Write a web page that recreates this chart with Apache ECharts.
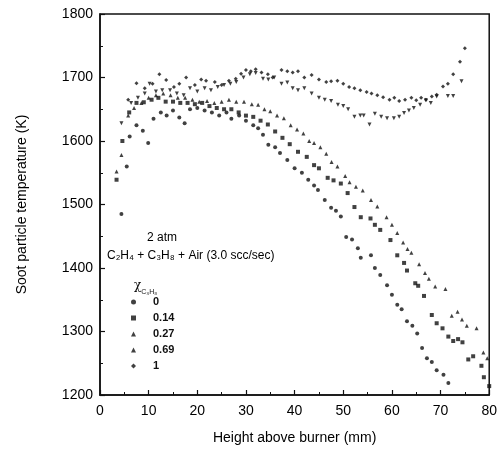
<!DOCTYPE html>
<html><head><meta charset="utf-8">
<script src="https://cdn.jsdelivr.net/npm/echarts@6/dist/echarts.min.js"></script>
<style>html,body{margin:0;padding:0;background:#fff}#c{width:500px;height:458px}</style>
</head><body><div id="c"></div>
<script>
// Legend names (χ of C3H8)
const seriesNames = ['0', '0.14', '0.27', '0.69', '1'];
const xTicks = [0, 10, 20, 30, 40, 50, 60, 70, 80];
const yTicks = [1200, 1300, 1400, 1500, 1600, 1700, 1800];

// χ = 0 : steepest decline  [height mm, temperature K]
const s0 = [[4.4,1485],[5.5,1560],[6.1,1607],[7.5,1625],[8.8,1616],[9.9,1597],[11,1635],[12.5,1645],[13.7,1640],[15,1648],[16.3,1637],[17.4,1628],[18.5,1650],[20,1652],[21.5,1648],[23,1645],[24.5,1640],[26,1645],[27,1635],[28.6,1640],[30,1632],[31.5,1625],[32.5,1620],[33.5,1610],[34.6,1594],[36,1590],[37,1581],[38.5,1570],[40,1557],[41.5,1550],[42.8,1539],[44,1530],[44.8,1523],[46.2,1507],[47.5,1495],[48.5,1490],[49.5,1481],[50.6,1449],[51.8,1445],[53,1431],[53.6,1416],[55.7,1420],[56.5,1400],[57.6,1389],[59,1373],[60,1358],[61.1,1342],[62,1335],[63.1,1316],[64.2,1309],[65.2,1297],[66.2,1274],[67.2,1258],[68.2,1252],[69.2,1239],[70.6,1232],[71.6,1219]];
// χ = 0.14
const s1 = [[3.4,1539],[4.6,1600],[6,1645],[7.5,1660],[9,1661],[10.6,1665],[12,1668],[13.5,1662],[15,1662],[16.5,1660],[18,1660],[19.5,1658],[21,1660],[22.5,1655],[24,1652],[25.5,1650],[27,1650],[28.5,1645],[30,1640],[31.5,1638],[33,1632],[34.5,1626],[36,1615],[37.5,1605],[39,1595],[40.7,1583],[42.5,1575],[44,1562],[45,1557],[46.8,1542],[48,1538],[49.5,1533],[50.9,1518],[52.3,1496],[53.6,1480],[55.6,1478],[56.5,1468],[57.6,1460],[59.7,1444],[61.1,1420],[62.5,1408],[63.1,1396],[64.8,1376],[65.4,1372],[66.6,1356],[68.2,1326],[69.2,1313],[70.4,1305],[71.6,1292],[72.6,1285],[73.6,1288],[74.5,1283],[75.7,1256],[76.7,1261],[78.4,1246],[78.9,1228],[80,1214]];
// χ = 0.27 : least steep decline
const s2 = [[3.4,1552],[4.4,1578],[5.8,1640],[7,1652],[8.5,1660],[10,1668],[11.5,1672],[13,1675],[14.5,1672],[16,1668],[17.5,1668],[19,1665],[20.4,1662],[22,1663],[23.5,1660],[25,1662],[26.5,1665],[28,1662],[29.6,1662],[31.2,1658],[32.5,1657],[33.8,1650],[35,1647],[36.4,1640],[37.8,1636],[39.2,1625],[40.5,1618],[41.8,1612],[43,1600],[44,1597],[45.3,1590],[46.5,1580],[47.6,1567],[48.8,1560],[50.4,1545],[51.3,1535],[52.6,1528],[54,1522],[55.7,1507],[57,1497],[58.9,1480],[60,1468],[61.1,1455],[62.3,1440],[63.2,1430],[64,1424],[65.6,1406],[66.8,1392],[67.6,1383],[68.9,1371],[71,1367],[72.3,1325],[73.5,1331],[74.4,1319],[75.4,1309],[77.4,1305],[78.8,1267],[79.6,1258]];
// χ = 0.69 : lower flat curve
const s3 = [[4.4,1628],[6.4,1660],[7.8,1668],[9.2,1675],[10.2,1690],[11.5,1678],[12.8,1680],[14.4,1680],[15.8,1675],[17.2,1672],[18.5,1683],[20,1678],[21.5,1683],[22.8,1680],[24.2,1685],[25.5,1688],[26.8,1690],[28,1693],[29.5,1700],[30.8,1705],[32,1707],[33.5,1698],[34.6,1697],[35.8,1700],[37.3,1690],[38.5,1692],[39.6,1683],[40.7,1680],[42,1683],[43.5,1675],[45,1668],[46.2,1665],[47.5,1663],[48.9,1657],[50,1655],[51,1650],[52.3,1638],[53.5,1640],[54.2,1640],[55.4,1626],[56.5,1643],[57.8,1638],[59,1636],[60.4,1636],[61.5,1638],[62.5,1644],[63.5,1648],[64.5,1652],[65.8,1657],[67,1664],[68,1660],[69.2,1670],[71.5,1671],[72.6,1671],[74.3,1694]];
// χ = 1 : upper flat curve
const s4 = [[5.8,1665],[7.5,1691],[9.2,1683],[10.8,1690],[12.2,1705],[13.6,1696],[15.2,1685],[16.3,1690],[17.7,1700],[19.5,1688],[20.8,1697],[21.8,1695],[23.6,1693],[25,1688],[26.5,1695],[27.9,1698],[29,1706],[30,1712],[31,1710],[32,1713],[33.2,1708],[34.5,1705],[35.5,1700],[37.3,1712],[38.5,1710],[39.6,1708],[40.7,1710],[42,1700],[43.5,1704],[45,1697],[46.5,1693],[47.5,1694],[48.8,1695],[50,1690],[51.2,1685],[52.3,1683],[53.5,1680],[54.8,1677],[55.8,1675],[57,1672],[58.2,1669],[59.5,1665],[60.5,1668],[61.5,1663],[62.7,1665],[64,1668],[65,1664],[66,1668],[67,1665],[68.2,1670],[69.2,1673],[70.5,1686],[71.5,1690],[72.6,1705],[74,1725],[75,1746]];

const seriesData = [s0, s1, s2, s3, s4];
const symbols = ['circle', 'rect', 'triangle', 'triangle', 'diamond'];
const rotations = [0, 0, 0, 180, 0];

const FONT = '"Liberation Sans", Arial, sans-serif';
const chart = echarts.init(document.getElementById('c'), null, {renderer: 'canvas'});
const option = {
  animation: false,
  backgroundColor: '#fff',
  grid: {left: 100, right: 7, top: 14, bottom: 63, show: true, borderColor: '#111', borderWidth: 1.5},
  xAxis: {
    type: 'value', min: xTicks[0], max: xTicks[xTicks.length - 1], interval: 10,
    name: 'Height above burner (mm)', nameLocation: 'middle', nameGap: 36,
    nameTextStyle: {fontFamily: FONT, fontSize: 14, color: '#000'},
    axisLine: {lineStyle: {color: '#111', width: 1.5}},
    axisTick: {inside: true, length: 5, lineStyle: {color: '#111', width: 1.2}},
    minorTick: {show: true, splitNumber: 2, length: 3, lineStyle: {color: '#111'}},
    axisLabel: {fontFamily: FONT, fontSize: 14, color: '#000', margin: 9, formatter: v => String(v)},
    splitLine: {show: false}
  },
  yAxis: {
    type: 'value', min: yTicks[0], max: yTicks[yTicks.length - 1], interval: 100,
    name: 'Soot particle temperature (K)', nameLocation: 'middle', nameGap: 71,
    nameTextStyle: {fontFamily: FONT, fontSize: 14, color: '#000'},
    axisLine: {lineStyle: {color: '#111', width: 1.5}},
    axisTick: {inside: true, length: 5, lineStyle: {color: '#111', width: 1.2}},
    minorTick: {show: true, splitNumber: 2, length: 3, lineStyle: {color: '#111'}},
    axisLabel: {fontFamily: FONT, fontSize: 14, color: '#000', margin: 7, formatter: v => String(v)},
    splitLine: {show: false}
  },
  legend: {
    orient: 'vertical', left: 126, top: 291, itemWidth: 5, itemHeight: 5, itemGap: 4,
    data: seriesNames,
    textStyle: {fontFamily: FONT, fontSize: 11, fontWeight: 'bold', color: '#111', padding: [0, 0, 0, 12], lineHeight: 12}
  },
  graphic: [
    {type: 'text', left: 147, top: 232, style: {text: '2 atm', font: '12px ' + FONT, fill: '#000'}},
    {type: 'text', left: 107, top: 250, style: {text: 'C₂H₄ + C₃H₈ + Air (3.0 scc/sec)', font: '12px ' + FONT, fill: '#000'}},
    {type: 'text', left: 134, top: 280, style: {
      text: '{a|χ}{b|C₃H₈}', rich: {
        a: {fontFamily: 'DejaVu Serif, serif', fontSize: 12, fill: '#111', lineHeight: 16, verticalAlign: 'top'},
        b: {fontFamily: FONT, fontSize: 7, fill: '#111', lineHeight: 16, verticalAlign: 'bottom'}
      }}}
  ],
  series: seriesNames.map((n, i) => ({
    name: n, type: 'scatter', data: seriesData[i], symbol: symbols[i], symbolRotate: rotations[i],
    symbolSize: 4, itemStyle: {color: '#111'}
  }))
};
chart.setOption(option);
</script></body></html>
